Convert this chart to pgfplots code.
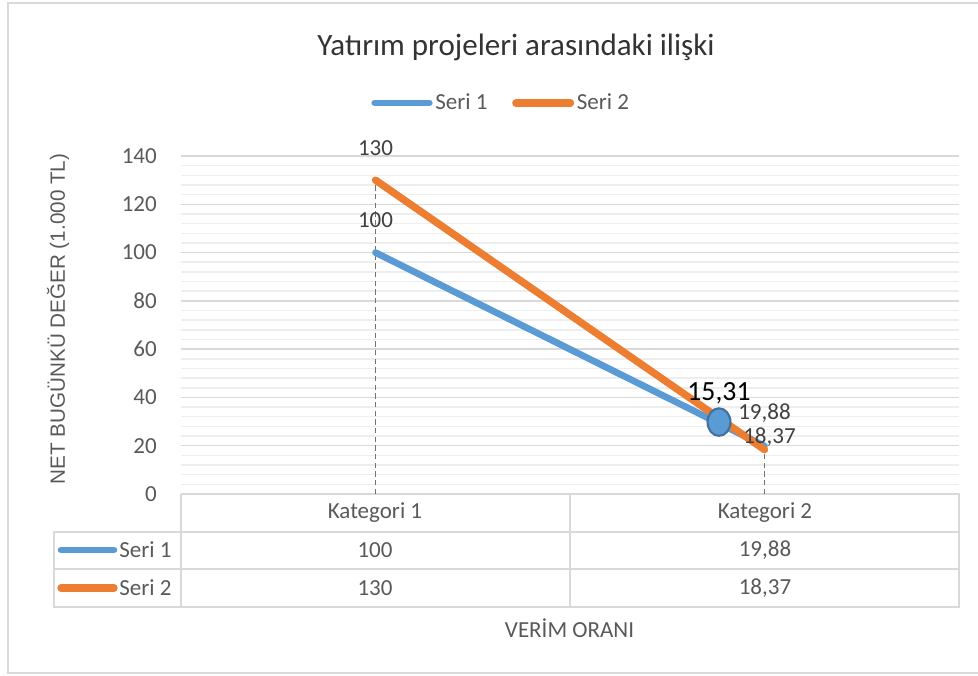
\documentclass[border=0pt]{standalone}
\usepackage{fontspec}
\setmainfont{Carlito}
\newfontfamily\arialfont{Liberation Sans}
\usepackage{pgfplots}
\pgfplotsset{compat=1.18}

\definecolor{seri1}{HTML}{5B9BD5}
\definecolor{seri2}{HTML}{ED7D31}
\definecolor{txt}{HTML}{595959}
\definecolor{lbl}{HTML}{404040}
\definecolor{grd}{HTML}{D9D9D9}
\definecolor{mgrd}{HTML}{EEEEEE}
\definecolor{circ}{HTML}{41719C}
\newcommand\fs[1]{\fontsize{#1pt}{#1pt}\selectfont}

\begin{document}
\begin{tikzpicture}
% frame and data table (pixel units, y down)
\begin{scope}[x=0.75pt,y=-0.75pt]
  \useasboundingbox (0,0) rectangle (978,675);
  \draw[grd, line width=1.1pt] (978,3) -- (8,3) -- (8,673) -- (978,673);
  \draw[grd, line width=1.2pt] (181,494) -- (959,494) -- (959,607) -- (54,607) -- (54,532) -- (959,532);
  \draw[grd, line width=1.2pt] (54,569) -- (959,569);
  \draw[grd, line width=1.2pt] (181,494) -- (181,607) (570,494) -- (570,607);
\end{scope}

\begin{axis}[
    scale only axis,
    width=583.5pt, height=253.5pt,
    at={(135.75pt,-370.5pt)}, anchor=south west,
    xmin=-0.5, xmax=1.5, ymin=0, ymax=140,
    xtick=\empty,
    ytick={0,20,...,140},
    minor y tick num=4,
    ymajorgrids, yminorgrids,
    major grid style={grd, line width=1.1pt},
    minor grid style={mgrd, line width=1.1pt},
    axis line style={draw=none},
    major tick length=0pt, minor tick length=0pt,
    /pgf/number format/assume math mode=true,
    yticklabel style={font=\fs{17.25}, text=txt, inner sep=0pt, xshift=-18pt},
    clip=false,
    legend columns=2,
    legend style={at={(0.412,1.157)}, anchor=center, draw=none, fill=none,
        font=\fs{17.25}, text=txt, inner sep=0pt,
        /tikz/every even column/.append style={column sep=16.5pt}},
    legend image code/.code={\draw[#1, line cap=round] (0pt,0pt) -- (41pt,0pt);},
]
% drop lines
\addplot[forget plot, draw=black!55, line width=1.25pt, dash pattern=on 4pt off 2.5pt]
    coordinates {(0,0) (0,130)};
\addplot[forget plot, draw=black!55, line width=1.25pt, dash pattern=on 4pt off 2.5pt]
    coordinates {(1,0) (1,19.88)};

\addplot[seri1, line width=5pt, line cap=round] coordinates {(0,100) (1,19.88)};
\addlegendentry{Seri 1}
\addplot[seri2, line width=5.5pt, line cap=round] coordinates {(0,130) (1,18.37)};
\addlegendentry{Seri 2}

% marked point
\addplot[forget plot, only marks, mark=*, mark size=8.6pt,
    mark options={fill=seri1, draw=circ, line width=1.6pt, yscale=1.2}]
    coordinates {(0.883,29.8)};

% data labels
\node[font=\fs{17.25}, text=lbl, yshift=24pt] at (axis cs:0,100) {100};
\node[font=\fs{17.25}, text=lbl, yshift=24pt] at (axis cs:0,130) {130};
\node[font=\fs{17.25}, text=lbl, yshift=24.75pt] at (axis cs:1,19.88) {19,88};
\node[font=\fs{17.25}, text=lbl, xshift=3.75pt, yshift=9.75pt] at (axis cs:1,18.37) {18,37};
\node[font=\fs{20.8}, text=black, yshift=21.75pt] at (axis cs:0.883,29.8) {15,31};
\end{axis}

% titles and table text
\begin{scope}[x=0.75pt,y=-0.75pt]
  \node[font=\fs{23.25}, text=black!80] at (516,47) {Yatırım projeleri arasındaki ilişki};
  \node[font=\arialfont\fs{15.5}, text=txt, rotate=90] at (58,319) {NET BUGÜNKÜ DEĞER (1.000 TL)};
  \node[font=\fs{17.25}, text=txt] at (569.5,628) {VERİM ORANI};
  \node[font=\fs{17.25}, text=txt] at (375,513) {Kategori 1};
  \node[font=\fs{17.25}, text=txt] at (765,513) {Kategori 2};
  \node[font=\fs{17.25}, text=txt] at (375,550) {100};
  \node[font=\fs{17.25}, text=txt] at (765,550) {19,88};
  \node[font=\fs{17.25}, text=txt] at (375,588) {130};
  \node[font=\fs{17.25}, text=txt] at (765,588) {18,37};
  \draw[seri1, line width=5pt, line cap=round] (61,550) -- (114,550);
  \draw[seri2, line width=5.5pt, line cap=round] (61,588) -- (114,588);
  \node[font=\fs{17.25}, text=txt, anchor=west, inner sep=0pt] at (119,550) {Seri 1};
  \node[font=\fs{17.25}, text=txt, anchor=west, inner sep=0pt] at (119,588) {Seri 2};
\end{scope}
\end{tikzpicture}
\end{document}
